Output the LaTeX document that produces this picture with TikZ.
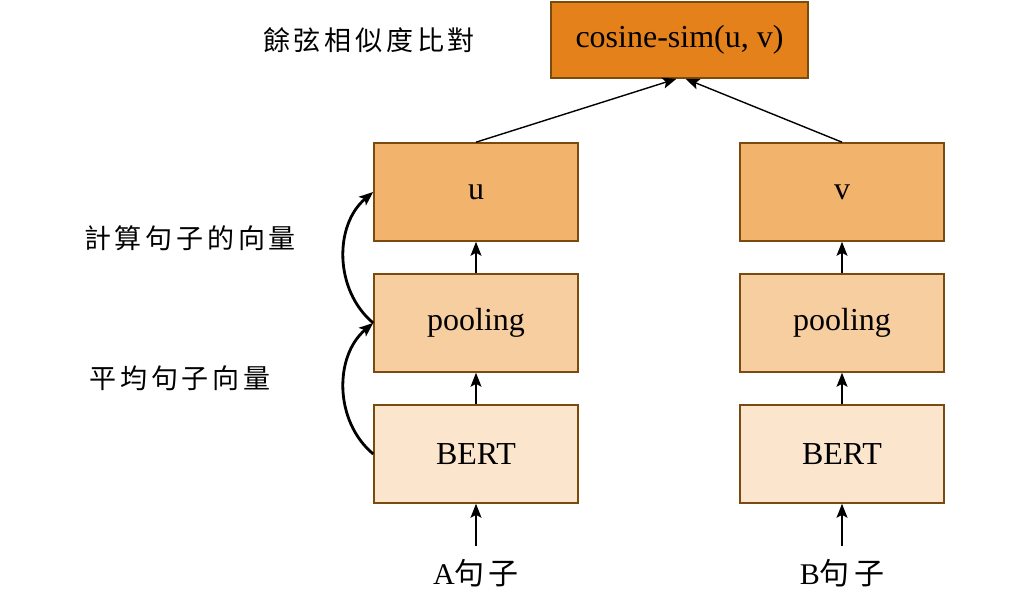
\documentclass[tikz,border=0pt]{standalone}
\usepackage{fontspec}
\usetikzlibrary{arrows.meta}
\setmainfont{Liberation Serif}
\newfontfamily\cjk[LetterSpace=14]{Noto Sans CJK TC}
\tikzset{>={Stealth[length=14pt,width=11pt,inset=3pt]}}
\definecolor{edge}{HTML}{7B4A0E}
\definecolor{simfill}{HTML}{E4811B}
\definecolor{vecfill}{HTML}{F2B36C}
\definecolor{poolfill}{HTML}{F7CE9F}
\definecolor{bertfill}{HTML}{FBE5CC}

\begin{document}
\begin{tikzpicture}[x=1pt,y=1pt,
  blk/.style={draw=edge,line width=1.6pt,minimum width=204pt,minimum height=98pt,inner sep=0pt,font=\fontsize{32}{38}\selectfont},
  lbl/.style={font=\cjk\fontsize{27}{30}\selectfont},
  sent/.style={font=\fontsize{30}{36}\selectfont},
  flow/.style={->,line width=1.4pt},
  loop/.style={->,line width=2.8pt,bend left=50}]
\useasboundingbox (0,0) rectangle (1024,610);
\node[blk,fill=bertfill] (bertA) at (476,156) {BERT};
\node[blk,fill=poolfill] (poolA) at (476,287) {pooling};
\node[blk,fill=vecfill] (u) at (476,418) {u};
\node[blk,fill=bertfill] (bertB) at (842,156) {BERT};
\node[blk,fill=poolfill] (poolB) at (842,287) {pooling};
\node[blk,fill=vecfill] (v) at (842,418) {v};
\node[blk,fill=simfill,minimum width=257pt,minimum height=76pt] (sim) at (679.5,570) {cosine-sim(u, v)};
\node[sent] (sentA) at (476,37) {A{\cjk 句子}};
\node[sent] (sentB) at (842,37) {B{\cjk 句子}};
\node[lbl] (simlbl) at (369,570) {餘弦相似度比對};
\node[lbl] (veclbl) at (190,372) {計算句子的向量};
\node[lbl] (poollbl) at (180,232) {平均句子向量};
\draw[flow,shorten <=10pt] (sentA.north) -- (bertA);
\draw[flow,shorten <=10pt] (sentB.north) -- (bertB);
\draw[flow] (bertA) -- (poolA);
\draw[flow] (poolA) -- (u);
\draw[flow] (bertB) -- (poolB);
\draw[flow] (poolB) -- (v);
\draw[flow] (u.north) -- ([xshift=-3pt]sim.south);
\draw[flow] (v.north) -- ([xshift=6pt]sim.south);
\draw[loop] (bertA.west) to (poolA.west);
\draw[loop] (poolA.west) to (u.west);
\end{tikzpicture}
\end{document}
